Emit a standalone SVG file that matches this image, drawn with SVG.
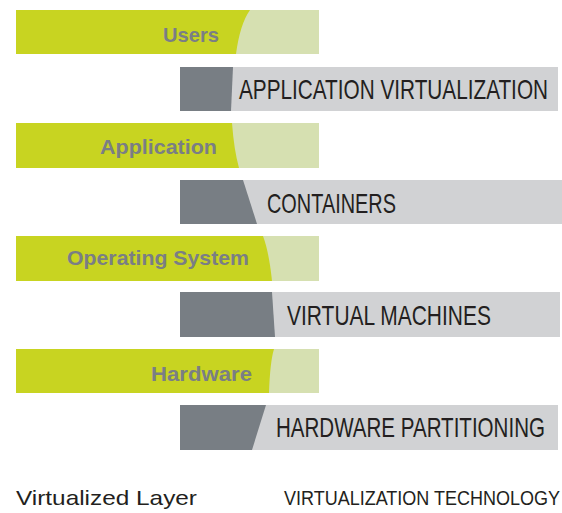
<svg xmlns="http://www.w3.org/2000/svg" width="562" height="513" viewBox="0 0 562 513">
<style>
.lg{fill:#d6e0b1}
.g{fill:#c8d421}
.lgr{fill:#d1d2d4}
.dg{fill:#787e84}
.lt{font-family:"Liberation Sans",Arial,sans-serif;font-weight:bold;font-size:21px;fill:#7a7e85}
.tt{font-family:"Liberation Sans",Arial,sans-serif;font-size:27px;fill:#231f20}
.bt{font-family:"Liberation Sans",Arial,sans-serif;font-size:21px;fill:#231f20}
</style>
<rect width="562" height="513" fill="#ffffff"/>
<g id="layer-users">
<rect class="lg" x="16" y="10" width="303" height="44"/>
<path class="g" d="M16 10 H250 Q240 24 236 54 H16 Z"/>
<text class="lt" x="163" y="42" textLength="56" lengthAdjust="spacingAndGlyphs">Users</text>
</g>
<g id="tech-app-virt">
<rect class="lgr" x="180" y="67" width="378" height="44"/>
<path class="dg" d="M180 67 H233 L231 111 H180 Z"/>
<text class="tt" transform="translate(239 99) scale(0.76 1)" x="0" y="0" textLength="406.6" lengthAdjust="spacingAndGlyphs">APPLICATION VIRTUALIZATION</text>
</g>
<g id="layer-application">
<rect class="lg" x="16" y="123" width="303" height="45"/>
<path class="g" d="M16 123 H232 Q234 150 239 168 H16 Z"/>
<text class="lt" x="100" y="154" textLength="117" lengthAdjust="spacingAndGlyphs">Application</text>
</g>
<g id="tech-containers">
<rect class="lgr" x="180" y="180" width="382" height="44"/>
<path class="dg" d="M180 180 H243 L257 224 H180 Z"/>
<text class="tt" transform="translate(267 213) scale(0.76 1)" x="0" y="0" textLength="169.7" lengthAdjust="spacingAndGlyphs">CONTAINERS</text>
</g>
<g id="layer-os">
<rect class="lg" x="16" y="236" width="303" height="45"/>
<path class="g" d="M16 236 H263 Q269 252 272 281 H16 Z"/>
<text class="lt" x="67" y="265" textLength="182" lengthAdjust="spacingAndGlyphs">Operating System</text>
</g>
<g id="tech-vm">
<rect class="lgr" x="180" y="292" width="380" height="45"/>
<path class="dg" d="M180 292 H272 L275 337 H180 Z"/>
<text class="tt" transform="translate(287 325) scale(0.76 1)" x="0" y="0" textLength="268.4" lengthAdjust="spacingAndGlyphs">VIRTUAL MACHINES</text>
</g>
<g id="layer-hardware">
<rect class="lg" x="16" y="349" width="303" height="44"/>
<path class="g" d="M16 349 H274 Q270 362 269 393 H16 Z"/>
<text class="lt" x="151" y="381" textLength="101" lengthAdjust="spacingAndGlyphs">Hardware</text>
</g>
<g id="tech-hw-part">
<rect class="lgr" x="180" y="405" width="378" height="45"/>
<path class="dg" d="M180 405 H266 L252 450 H180 Z"/>
<text class="tt" transform="translate(276 437) scale(0.76 1)" x="0" y="0" textLength="353.9" lengthAdjust="spacingAndGlyphs">HARDWARE PARTITIONING</text>
</g>
<g id="legend">
<text class="bt" x="16" y="505" textLength="181" lengthAdjust="spacingAndGlyphs">Virtualized Layer</text>
<text class="bt" transform="translate(284 505) scale(0.85 1)" x="0" y="0" textLength="324.7" lengthAdjust="spacingAndGlyphs">VIRTUALIZATION TECHNOLOGY</text>
</g>
<g id="connectors"></g>
</svg>
